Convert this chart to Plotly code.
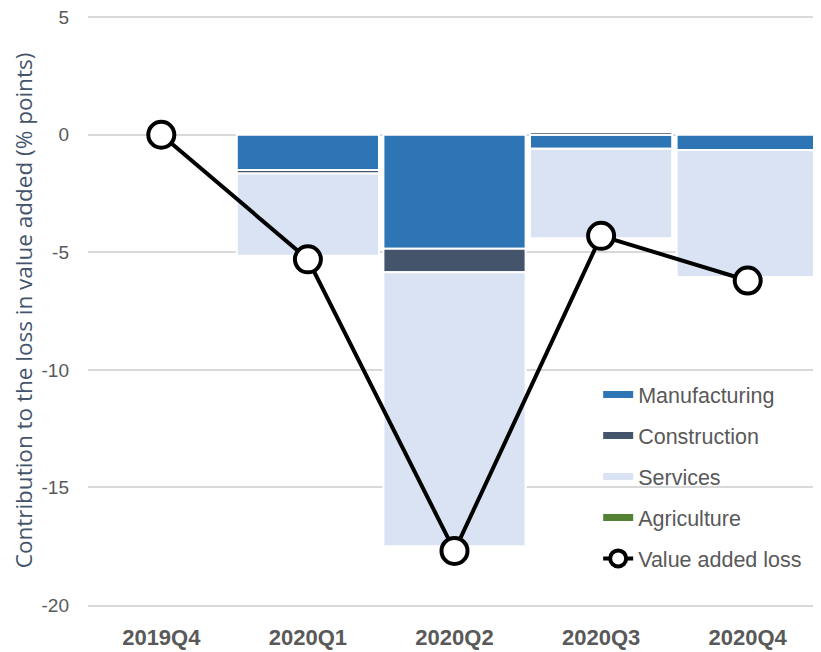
import plotly.graph_objects as go

quarters = ["2019Q4", "2020Q1", "2020Q2", "2020Q3", "2020Q4"]
manufacturing = [None, -1.5, -4.85, -0.6, -0.65]
construction = [None, -0.15, -1.0, 0.12, None]
services = [None, -3.5, -11.65, -3.8, -5.4]
agriculture = [None, None, None, None, None]
value_added_loss = [0.0, -5.3, -17.7, -4.3, -6.2]

y_ticks = [5, 0, -5, -10, -15, -20]
y_tick_labels = ["5", "0", "-5", "-10", "-15", "-20"]

series = [
    ("Manufacturing", manufacturing, "#2e75b6"),
    ("Construction", construction, "#44546a"),
    ("Services", services, "#dae3f3"),
    ("Agriculture", agriculture, "#548235"),
]

fig = go.Figure()
for name, vals, color in series:
    fig.add_trace(go.Bar(
        x=quarters, y=vals, name=name, showlegend=False,
        marker=dict(color=color, line=dict(color="white", width=2)),
    ))
# legend proxies (line-style swatches)
for name, vals, color in series:
    fig.add_trace(go.Scatter(
        x=[quarters[0]], y=[None], mode="lines", name=name,
        line=dict(color=color, width=7), legendgroup=name,
    ))

fig.add_trace(go.Scatter(
    x=quarters, y=value_added_loss, name="Value added loss",
    mode="lines+markers", legendgroup="val",
    line=dict(color="black", width=4),
    marker=dict(size=26, color="white", line=dict(color="black", width=4)),
))

# page has an 8px body margin; size figure so the plot area lands where the reference has it
fig.update_layout(
    width=813, height=644,
    barmode="relative", bargap=0.03,
    plot_bgcolor="white", paper_bgcolor="white",
    margin=dict(l=80, r=0, t=8, b=47),
    font=dict(family="Liberation Sans, Arial, sans-serif", color="#595959"),
    legend=dict(
        x=0.696, y=0.392, xanchor="left", yanchor="top",
        font=dict(size=21.5, color="#595959"),
        bgcolor="rgba(0,0,0,0)", tracegroupgap=10,
    ),
)
fig.update_yaxes(
    range=[-20, 5.05], tickvals=y_ticks, ticktext=y_tick_labels, automargin=False,
    showgrid=True, gridcolor="#d9d9d9", gridwidth=1.5, zeroline=False,
    showline=False, ticks="", tickfont=dict(size=19, color="#595959"),
    ticklabelstandoff=18, ticklabeloverflow="allow",
    title=dict(text="Contribution to the loss in value added (% points)",
               font=dict(size=22.5, color="#44546a", family="Open Sans, Liberation Sans"),
               standoff=6),
)
fig.update_xaxes(
    showline=True, linecolor="#d9d9d9", linewidth=2, ticks="", automargin=False,
    tickfont=dict(size=22, color="#595959", weight="bold",
                  family="Liberation Sans Narrow, Arial Narrow, Liberation Sans"),
    ticklabelstandoff=12,
)

fig.write_html("out.html")
